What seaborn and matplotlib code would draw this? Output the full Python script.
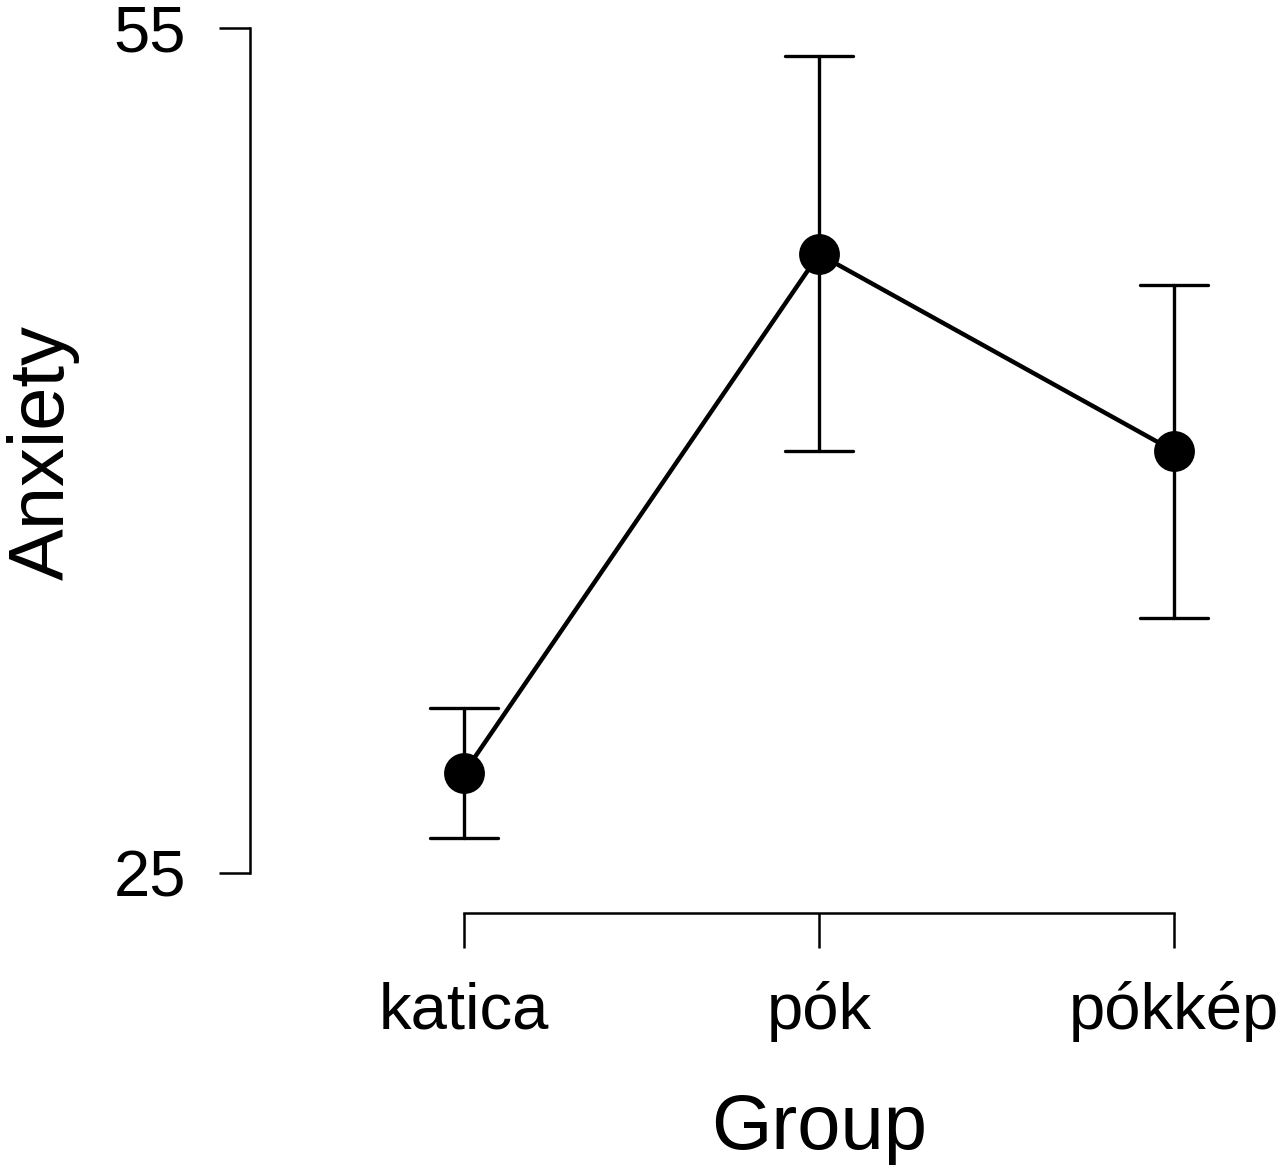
import matplotlib
matplotlib.use("Agg")
import matplotlib.pyplot as plt
import numpy as np
import pandas as pd
import seaborn as sns

# group means and 95% CI bounds
groups = ["katica", "pók", "pókkép"]
means = [28.55, 46.97, 39.98]
lower = [26.24, 39.98, 34.05]
upper = [30.86, 54.0, 45.87]

# long table: each group holds lower / mean / upper so that median = mean,
# min / max = CI bounds
df = pd.DataFrame({
    "Group": np.repeat(groups, 3),
    "Anxiety": np.ravel(np.column_stack([lower, means, upper])),
})

sns.set_style("white")
plt.rcParams["font.family"] = ["Liberation Sans", "DejaVu Sans"]

W, H = 1282, 1168
fig = plt.figure(figsize=(W / 100, H / 100), dpi=100)
# axes box in pixel terms
left_px, right_px, top_px, bot_px = 250, 1270, 20, 913
ax = fig.add_axes([left_px / W, 1 - bot_px / H,
                   (right_px - left_px) / W, (bot_px - top_px) / H])

sns.pointplot(data=df, x="Group", y="Anxiety", order=groups,
              estimator="median", errorbar=lambda v: (v.min(), v.max()),
              color="black", capsize=0.19, markersize=27, linewidth=3.2,
              err_kws={"linewidth": 2.4}, ax=ax)

ax.set_xlim(-0.6028, 2.2704)
ax.set_ylim(23.58, 55.284)
ax.set_yticks([25, 55])
ax.set_yticklabels(["25", "55"])

sns.despine(ax=ax)
ax.spines["left"].set_bounds(25, 55)
ax.spines["bottom"].set_bounds(0, 2)
for s in ("left", "bottom"):
    ax.spines[s].set_linewidth(1.8)
    ax.spines[s].set_color("black")

ax.tick_params(axis="y", length=22, width=1.8, pad=24, labelsize=47,
               direction="out", left=True, colors="black")
ax.tick_params(axis="x", length=25, width=1.8, pad=24, labelsize=47,
               direction="out", bottom=True, colors="black")

ax.set_xlabel("Group", fontsize=56, color="black")
ax.set_ylabel("Anxiety", fontsize=56, color="black")
axw, axh = right_px - left_px, bot_px - top_px
ax.yaxis.set_label_coords((80 - left_px) / axw, (bot_px - 452) / axh)
ax.xaxis.set_label_coords((819 - left_px) / axw, (bot_px - 1092) / axh)

fig.savefig("out.png", dpi=100)
